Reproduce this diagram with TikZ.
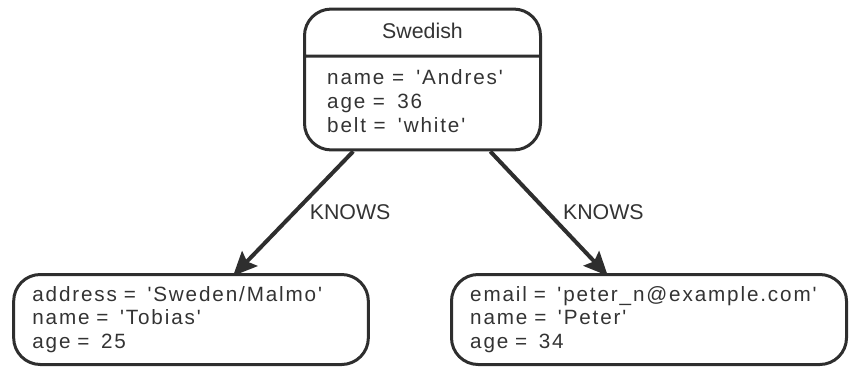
\documentclass[tikz,border=0pt]{standalone}
\usepackage{fontspec}
\setmainfont[LetterSpace=9,Ligatures=TeXOff]{Liberation Sans}
\newfontfamily\headfont{Liberation Sans}
\usepackage{xcolor}
\usepackage{tikz}
\usetikzlibrary{arrows.meta,shapes.multipart}
\definecolor{GraphInk}{HTML}{333333}
\definecolor{GraphLine}{HTML}{2E2E2E}
\newcommand{\propeq}{= \kern3.5pt}

\tikzset{
  entity/.style={draw=GraphLine,line width=2.25pt,rounded corners=20pt,text=GraphInk,
    font=\fontsize{15.5}{17.7}\selectfont,align=left,inner xsep=14pt,inner ysep=0pt,
    minimum height=67.5pt},
  labelled/.style={entity,rectangle split,rectangle split parts=2,
    rectangle split part align={center,left},inner xsep=17pt,inner ysep=9.1pt},
  knows/.style={draw=GraphLine,line width=3pt,shorten >=-3pt,
    -{Stealth[length=18pt,width=16pt,inset=3pt]}},
  rel/.style={text=GraphInk,font=\headfont\fontsize{16}{16}\selectfont,anchor=west,inner xsep=10pt}
}

\begin{document}
\begin{tikzpicture}[x=0.75pt,y=-0.75pt]
  \useasboundingbox (0,0) rectangle (849,367);
  \node[labelled,minimum width=177pt] (swedish) at (422.5,79.5)
    {\headfont\fontsize{16}{17}\selectfont Swedish\vphantom{g}%
     \nodepart{two}name \propeq 'Andres'\\age \propeq 36\\belt \propeq 'white'\vphantom{g}};
  \node[entity,minimum width=266pt,text width=238pt] (tobias) at (191,319.5)
    {address \propeq 'Sweden/Malmo'\\name \propeq 'Tobias'\\age \propeq 25};
  \node[entity,minimum width=296.25pt,text width=268.25pt] (peter) at (649,319.5)
    {email \propeq 'peter\_n@example.com'\\name \propeq 'Peter'\\age \propeq 34};
  \draw[knows] (swedish) -- node[rel] {KNOWS} (tobias);
  \draw[knows] (swedish) -- node[rel] {KNOWS} (peter);
\end{tikzpicture}
\end{document}
